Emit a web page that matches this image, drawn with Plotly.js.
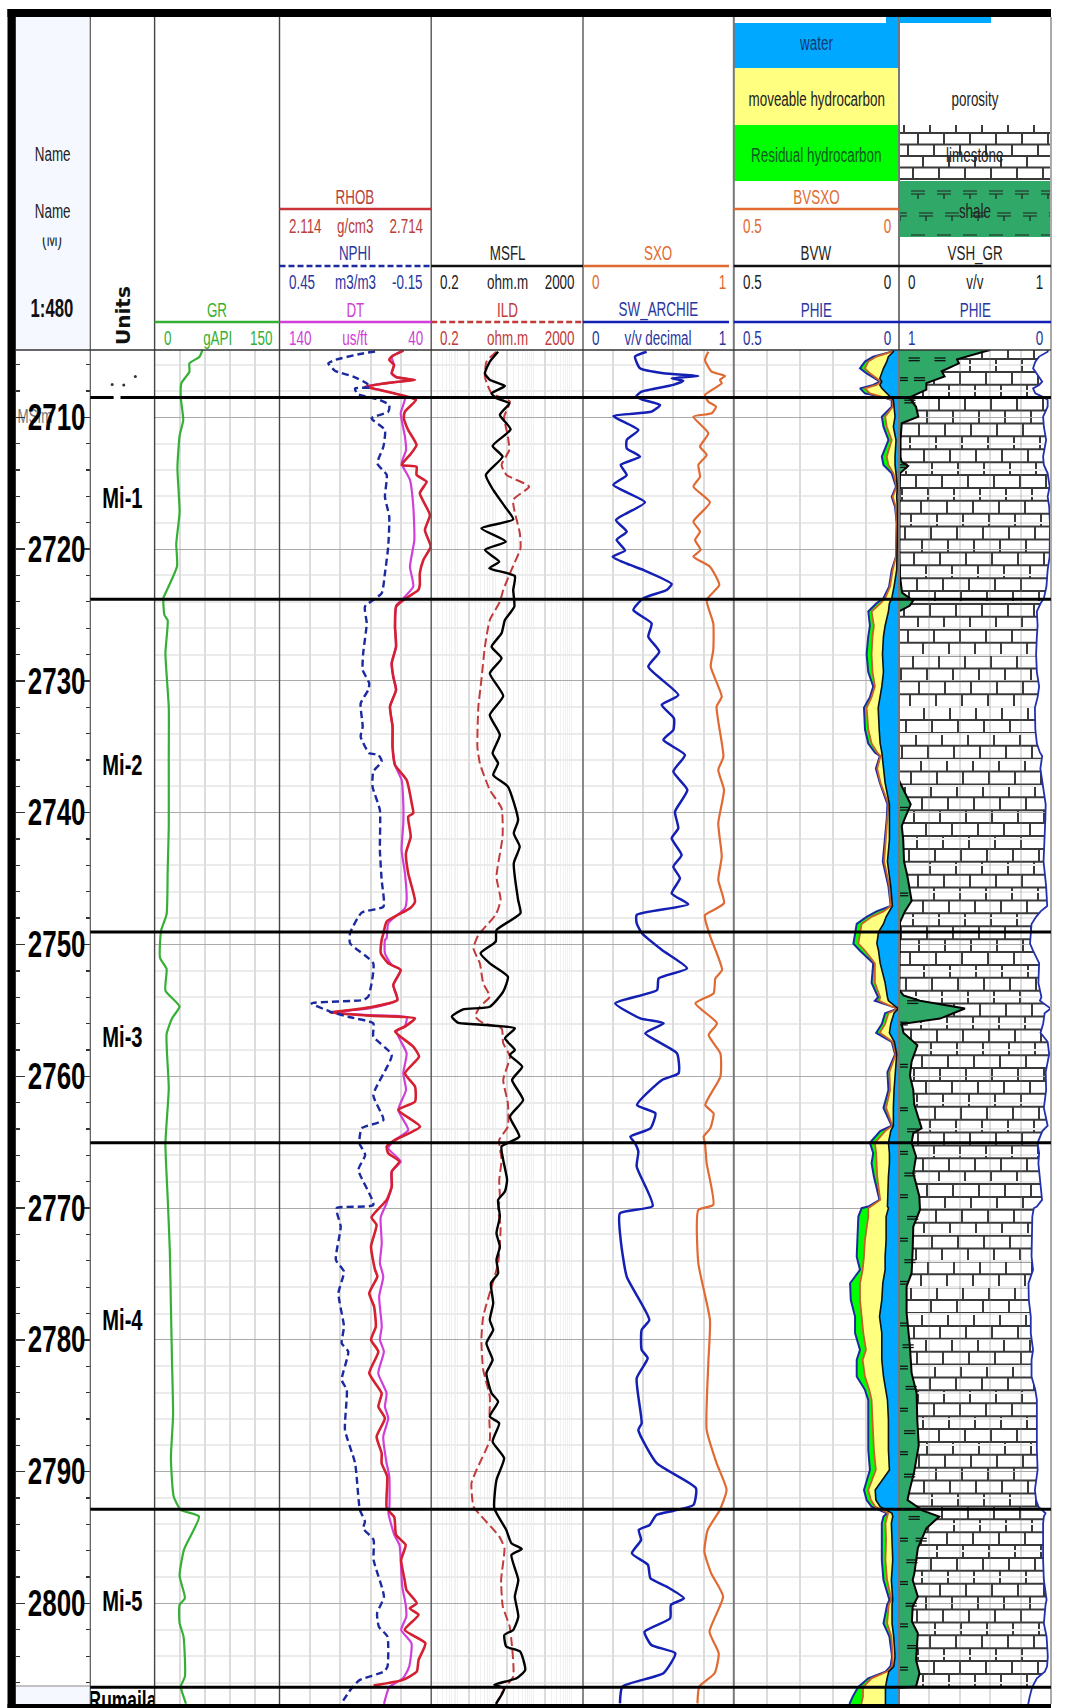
<!DOCTYPE html>
<html><head><meta charset="utf-8">
<script src="https://cdn.plot.ly/plotly-3.0.1.min.js"></script>
<style>html,body{margin:0;padding:0;background:#fff}</style></head>
<body><div id="chart" style="width:1066px;height:1708px"></div>
<script>
// ---------- data (depth in m) ----------
const zoneTops=[2708.5,2723.8,2749.05,2765.05,2792.85,2806.35];
const zoneNames=['Mi-1','Mi-2','Mi-3','Mi-4','Mi-5','Rumaila'];
const zoneLabelDepth=[2716.3,2736.6,2757.2,2778.7,2800,2807.5];

const grDepth=[2704.89,2705.4,2705.9,2706.55,2707.4,2708.5,2710.2,2711.4,2713.85,2717.2,2719.6,2721.3,2723.35,2723.7,2725,2725.4,2727.9,2732,2736.1,2741.1,2744.4,2747.7,2748.95,2751,2751.85,2753.5,2754.7,2755.6,2756.8,2760.9,2765.1,2769.2,2773.3,2777.5,2781.6,2785.7,2789,2791.9,2792.9,2793.4,2795.9,2797.9,2799.6,2800.1,2801.5,2802.5,2805.55,2806.3,2807.6];
const grVal=[57.5,54,41.8,41.8,32.2,31.4,34.4,30,27.4,30,26,27,13,10.5,11.8,15.7,13,17,17,17,15.7,14.4,7.8,6.5,14.4,13,30,21,14.4,17,13,15.7,18.3,19.6,20.9,22.2,19.6,23,31.4,53.3,35.4,30,36.4,30,30,34.7,36.4,31.4,37.7];

const rhobDepth=[2704.94,2705.39,2705.65,2706.03,2706.66,2706.96,2707.16,2707.34,2707.67,2707.92,2708.48,2708.68,2709.57,2710.07,2710.96,2712.1,2712.85,2713.61,2713.74,2714.37,2714.88,2715.76,2717.41,2718.55,2719.81,2720.82,2721.83,2722.72,2723.1,2723.86,2724.36,2725.88,2727.4,2728.66,2729.68,2730.69,2731.95,2733.47,2734.99,2736.38,2737.52,2739.29,2740.04,2740.3,2741.81,2743.08,2744.6,2746.75,2747.25,2748.26,2749.15,2749.66,2750.67,2751.43,2751.93,2753.07,2754.21,2754.77,2755.17,2755.4,2755.6,2756.23,2756.61,2757.75,2758.51,2759.77,2760.79,2761.92,2762.56,2763.82,2764.83,2765.33,2765.84,2766.47,2767.23,2768.37,2769.38,2770.7,2771.28,2772.92,2774.69,2775.2,2776.46,2777.47,2778.99,2780,2780.89,2782.53,2784.05,2785.06,2785.95,2787.34,2788.6,2789.36,2790.37,2792.77,2793.46,2794.8,2795.56,2796.7,2798.22,2798.98,2799.99,2800.37,2800.87,2802.01,2803.02,2804.29,2805.17,2805.8,2806.23];
const rhobVal=[2.604,2.558,2.548,2.567,2.558,2.577,2.65,2.564,2.452,2.511,2.63,2.654,2.61,2.606,2.623,2.656,2.63,2.597,2.656,2.656,2.696,2.669,2.709,2.689,2.712,2.683,2.669,2.669,2.663,2.604,2.575,2.571,2.575,2.558,2.564,2.575,2.551,2.561,2.561,2.571,2.617,2.637,2.643,2.623,2.633,2.614,2.623,2.65,2.63,2.538,2.525,2.518,2.515,2.544,2.593,2.564,2.58,2.472,2.314,2.472,2.65,2.61,2.571,2.643,2.666,2.61,2.65,2.65,2.584,2.67,2.571,2.538,2.544,2.588,2.558,2.558,2.538,2.478,2.498,2.476,2.492,2.501,2.469,2.488,2.495,2.476,2.505,2.469,2.518,2.505,2.531,2.498,2.518,2.518,2.54,2.538,2.568,2.575,2.613,2.595,2.609,2.616,2.657,2.629,2.664,2.609,2.691,2.664,2.657,2.602,2.486];

const dtDepth=[2704.94,2705.39,2706.03,2706.66,2706.96,2707.16,2707.34,2707.67,2707.92,2708.48,2709.69,2711.46,2712.48,2713.49,2714.75,2716.78,2719.3,2721.33,2722.84,2723.86,2724.24,2725.88,2727.4,2728.66,2729.68,2730.69,2731.95,2733.47,2734.99,2736.38,2737.52,2739.29,2740.8,2742.83,2744.6,2746.62,2747.25,2748.39,2749.53,2749.66,2750.67,2751.55,2751.93,2753.07,2754.21,2754.84,2755.17,2755.35,2755.52,2756.18,2756.61,2758.26,2759.77,2761.04,2762.56,2764.07,2764.83,2765.46,2766.47,2767.23,2768.37,2769.63,2770.7,2772.67,2774.19,2775.2,2776.71,2778.99,2780,2780.89,2782.53,2784.05,2785.06,2785.95,2787.34,2789.36,2790.37,2792.77,2793.16,2794.8,2795.56,2797.46,2798.72,2800.11,2801,2802.01,2803.02,2804.79,2805.68,2806.36,2807.62];
const dtVal=[58.4,66.1,64.5,66.1,62.8,51.8,65,83.6,73.8,57.3,60.1,57.3,56.6,59.5,54,51.8,51.1,54,51.8,59.5,62.8,63.9,63.2,66.1,65,63.2,67.2,65.4,65.4,63.9,59.5,58.4,58.4,59.5,57.3,56.2,57.3,68.3,69.4,70.5,70.5,66.1,60.1,65,62.3,80.3,105.6,80.3,56.2,57.3,62.8,56.2,58.4,56.6,61.7,55.1,63.9,68.3,60.1,66.1,66.1,69.4,73.3,72.6,73.8,71.6,74.3,72.6,73.8,71.2,74.9,69.4,70.5,68.3,71.6,69.4,67.6,67.6,68.2,64.3,60.9,59.8,59.1,56.8,56.4,59.8,53,54.5,58.6,67.7,71.1];

const nphiDepth=[2705,2705.19,2705.65,2705.9,2706.46,2706.91,2707.42,2707.72,2707.8,2708.23,2708.68,2709.06,2709.57,2710.07,2710.96,2712.22,2713.49,2714.37,2716.02,2717.53,2719.81,2721.83,2723.35,2724.36,2725.63,2727.9,2729.17,2730.18,2730.69,2731.7,2733.47,2734.23,2735.49,2735.6,2736.12,2736.88,2738.02,2739.79,2742.83,2745.1,2747.13,2747.58,2749.15,2749.91,2751.43,2753.96,2754.21,2754.46,2755.09,2755.52,2755.98,2756.99,2758.38,2761.42,2763.31,2763.95,2765.08,2765.97,2767.1,2769.76,2770.01,2771.4,2773.93,2774.82,2776.46,2778.99,2780.26,2780.89,2783.04,2783.8,2786.83,2789.36,2792.9,2793.79,2794.3,2795.18,2796.7,2799.48,2800.75,2801.76,2802.52,2804.79,2805.17,2805.8,2806.31,2807.62];
const nphiVal=[.072,.132,.231,.257,.231,.158,.105,.092,.151,.142,.053,.016,.02,.086,.033,.039,.063,.026,.033,.016,.02,.033,.046,.112,.105,.119,.121,.095,.099,.129,.121,.129,.095,.059,.046,.079,.082,.053,.053,.046,.039,.125,.171,.171,.079,.099,.119,.323,.25,.171,.079,.079,.006,.079,.039,.125,.134,.111,.138,.079,.224,.208,.227,.195,.217,.195,.204,.178,.204,.184,.191,.151,.132,.112,.119,.078,.078,.037,.064,.057,.023,.023,.037,.132,.16,.207];

const msflDepth=[2705.02,2705.77,2706.66,2707.16,2707.62,2708.18,2708.56,2708.94,2709.82,2710.91,2712.17,2712.98,2714.37,2715.51,2716.77,2717.74,2718.42,2719.43,2720.06,2720.95,2721.45,2722.04,2723.1,2724.36,2725.38,2726.39,2727.4,2728.28,2729.42,2731.14,2732.58,2734.1,2735.49,2736.25,2737.14,2738.02,2740.55,2741.56,2742.57,2743.84,2746.62,2747.63,2748.9,2749.78,2750.67,2751.43,2752.44,2753.58,2754.72,2754.92,2755.47,2755.93,2756.11,2756.36,2757.12,2758,2758.38,2759.27,2760.28,2761.8,2763.06,2764.58,2765.33,2766.35,2767.86,2768.75,2769.38,2770.65,2771.91,2772.92,2773.93,2774.94,2775.7,2777.22,2778.49,2779.24,2780.26,2781.52,2782.53,2784.05,2784.68,2785.82,2786.33,2787.72,2788.98,2790.63,2792.78,2794.42,2795.43,2795.87,2796.32,2798.22,2799.48,2801,2802.01,2802.39,2803.27,2803.65,2805.05,2805.68,2806.18,2806.44,2807.62];
const msflVal=[11.6,7.03,5.2,7.03,17.5,7.8,10.5,22.8,12.9,24.7,8.3,15.2,5.5,8.6,17.5,29,4.2,18.5,5.2,12.4,6.8,32,29,31,17.5,14.3,7.8,14.3,7,15.8,7,12.9,8.3,11.6,8.6,21,39,30,43,30,39,45,10.5,10,4,7,21,15.8,7,1.39,.7,1,5.7,32,17.5,32,23.7,50,27,53,23.7,42,14.3,15.8,20,17.5,11.6,12.9,10.5,12.9,10.5,11.6,7.5,8.6,7,8.6,5.7,8.3,5.7,7.8,11.6,7,12.4,8.3,16.7,10.5,9.2,19,26,48.8,26,39.5,32,39.5,29,17,19,44,60,35.6,9.2,17,10.2];

const ildDepth=[2705.02,2705.77,2706.91,2708.18,2708.81,2709.95,2711.46,2712.48,2713.61,2714.37,2715.26,2716.27,2718.8,2719.94,2721.58,2723.1,2723.99,2725.38,2727.4,2729.93,2731.95,2734.99,2736.25,2738.27,2739.66,2741.81,2744.85,2746.62,2747.63,2748.14,2749.28,2750.29,2751.43,2752.95,2753.96,2754.72,2755.47,2755.98,2756.36,2757.5,2758.51,2760.28,2762.05,2763.82,2764.83,2766.35,2767.87,2769.26,2770.14,2771.4,2774.2,2775.96,2778.23,2780,2782.28,2784.3,2786.07,2787.59,2789.87,2790.88,2792.65,2793.16,2794.93,2795.81,2798.22,2800.24,2801.76,2805.55,2806.44,2807.62];
const ildVal=[10.5,5.74,5.2,7.8,23.7,16.7,21,22.8,14.3,19.3,76,29,43.4,45,26,15.8,12.9,7,5.2,4.2,3.5,3.3,3.83,7,14.3,15.2,10.5,13.5,10.5,7.8,3.5,2.6,3.83,4.7,7,3.83,2.9,4.7,14.3,15.8,23.7,15.8,21,21,12.4,14.3,12.4,12.9,11.6,13.5,11.6,7.8,4.7,4.2,4.7,7,6.8,7,3.13,2.3,2.6,3.57,12.5,17,13.9,15.4,23.4,29,17,10.2];

const swDepth=[2705.02,2705.39,2706.28,2706.66,2706.86,2707.04,2707.22,2707.54,2708.05,2708.43,2708.68,2709.06,2709.57,2709.9,2710.96,2711.72,2712.35,2712.98,2713.61,2714.37,2715.13,2716.45,2717.79,2718.67,2719.3,2720.11,2720.57,2721.2,2721.58,2722.64,2723.1,2723.73,2724.62,2725.63,2726.64,2727.78,2728.92,2731.07,2731.82,2732.84,2733.72,2734.48,2735.62,2736.88,2738.27,2739.92,2741.18,2741.94,2743.21,2744.09,2744.98,2746.13,2746.95,2747.76,2748.39,2749.15,2750.42,2751.81,2752.57,2753.45,2754.46,2755.6,2755.98,2756.74,2758.26,2759.77,2760.28,2762.18,2762.81,2763.95,2764.58,2765.08,2765.71,2766.85,2769.84,2770.39,2772.41,2775.2,2778.49,2779.24,2780.76,2781.39,2782.91,2786.33,2786.83,2789.36,2791.26,2792.53,2792.96,2793.29,2794.05,2794.42,2795.18,2796.2,2797.08,2798.09,2798.72,2799.61,2800.11,2801.13,2802.14,2803.15,2803.78,2805.3,2806.31,2807.58];
const swVal=[.422,.345,.378,.533,.765,.588,.665,.599,.389,.351,.4,.511,.455,.201,.367,.29,.29,.378,.25,.29,.201,.411,.219,.29,.223,.279,.197,.312,.4,.588,.555,.4,.334,.455,.433,.506,.433,.632,.522,.603,.599,.533,.676,.599,.692,.61,.632,.588,.654,.599,.643,.588,.698,.356,.356,.391,.524,.69,.502,.491,.214,.38,.535,.413,.623,.634,.524,.358,.48,.447,.314,.345,.367,.356,.462,.245,.25,.29,.44,.389,.389,.429,.356,.389,.367,.489,.749,.732,.601,.487,.442,.37,.385,.324,.431,.447,.555,.669,.583,.578,.408,.453,.612,.533,.261,.245];

const sxoDepth=[2705.02,2705.65,2706.53,2706.86,2707.16,2707.42,2708.3,2708.81,2709.19,2709.69,2709.95,2711.21,2712.22,2712.85,2713.61,2714.5,2715.26,2716.45,2717.91,2718.67,2719.3,2720.06,2720.57,2721.33,2722.72,2723.86,2725.63,2727.65,2728.92,2731.19,2731.95,2735.75,2736.76,2738.27,2740.8,2743.33,2745.1,2746.87,2747.76,2748.14,2749.4,2751.93,2752.57,2753.7,2754.46,2755.98,2756.87,2758.26,2760.03,2762.18,2762.81,2763.95,2764.58,2765.08,2766.6,2769.76,2770.14,2774.19,2778.49,2781.77,2786.83,2789.36,2791.39,2792.91,2794.42,2796.07,2797.71,2799.48,2802.14,2803.78,2805.3,2806.31,2807.58];
const sxoVal=[.831,.809,.853,.942,.908,.92,.809,.831,.882,.853,.732,.831,.776,.82,.765,.776,.732,.842,.732,.776,.743,.78,.732,.842,.904,.82,.864,.864,.847,.92,.886,.931,.897,.935,.897,.92,.897,.935,.809,.811,.844,.922,.878,.866,.745,.889,.833,.911,.911,.811,.866,.844,.8,.809,.82,.864,.765,.765,.842,.831,.82,.886,.952,.907,.827,.805,.85,.929,.839,.9,.873,.771,.759];

const fluidDepth=[2704.89,2705.02,2705.39,2705.77,2706.28,2706.66,2707.04,2707.29,2707.54,2707.8,2708.18,2708.48,2708.68,2709.19,2709.95,2710.71,2711.72,2712.98,2713.61,2714.25,2715.26,2716.02,2716.77,2718.04,2720.57,2721.58,2722.84,2723.73,2724.11,2724.73,2725.81,2726.62,2727.98,2729.33,2730.42,2731.23,2732.04,2733.67,2734.75,2735.43,2735.7,2736.65,2737.73,2739.36,2740.44,2742.07,2743.7,2745.59,2747.08,2747.49,2747.9,2748.44,2749.06,2749.93,2750.47,2751.42,2752.91,2754,2754.27,2754.67,2754.86,2755.21,2756.03,2756.7,2757.38,2758.33,2759.69,2761.04,2762.4,2763.75,2764.16,2765.05,2765.84,2766.6,2767.61,2769.38,2769.88,2770.01,2770.64,2772.41,2773.68,2774.69,2775.7,2776.96,2778.23,2779.49,2780.76,2781.52,2782.78,2783.79,2784.55,2786.07,2788.35,2789.87,2791.39,2792.15,2792.65,2793.16,2793.41,2793.92,2795.18,2796.7,2798.22,2799.74,2800.11,2801.51,2802.52,2804.04,2804.79,2805.17,2805.68,2806.36,2807.07,2807.63];
const phie=[.02,.022,.078,.103,.118,.098,.073,.058,.078,.118,.103,.047,.022,.022,.052,.047,.032,.052,.047,.022,.009,.022,.012,.007,.009,.022,.03,.047,.068,.093,.088,.093,.098,.093,.078,.088,.106,.103,.093,.073,.058,.07,.058,.035,.037,.042,.049,.032,.025,.068,.098,.128,.133,.138,.118,.078,.083,.063,.073,.027,.002,.042,.052,.069,.022,.012,.035,.032,.047,.022,.057,.088,.078,.083,.076,.059,.093,.113,.123,.126,.128,.118,.148,.146,.133,.133,.118,.128,.128,.103,.093,.093,.093,.088,.106,.098,.083,.036,.047,.052,.052,.052,.047,.029,.036,.047,.029,.021,.026,.041,.093,.124,.14,.15];
const bvsxo=[.02,.022,.068,.093,.103,.088,.068,.055,.068,.103,.088,.042,.019,.019,.042,.037,.022,.037,.032,.017,.007,.019,.01,.007,.009,.019,.027,.042,.056,.083,.076,.08,.083,.08,.073,.083,.098,.093,.083,.066,.056,.066,.056,.032,.035,.039,.045,.029,.025,.047,.083,.113,.118,.123,.103,.073,.073,.057,.06,.025,.002,.032,.042,.058,.019,.01,.029,.027,.039,.02,.042,.073,.069,.067,.066,.057,.088,.093,.093,.103,.106,.11,.118,.118,.113,.108,.1,.11,.103,.09,.083,.08,.076,.07,.093,.085,.072,.033,.036,.041,.039,.041,.036,.023,.031,.036,.023,.019,.021,.036,.083,.109,.109,.114];
const bvw=[.017,.017,.032,.037,.047,.052,.058,.052,.058,.052,.037,.022,.017,.015,.012,.017,.009,.012,.012,.009,.005,.007,.005,.004,.005,.007,.015,.022,.029,.032,.042,.047,.05,.047,.052,.058,.063,.06,.057,.052,.051,.047,.042,.029,.029,.029,.035,.025,.02,.029,.039,.047,.062,.067,.062,.057,.042,.035,.032,.012,.002,.015,.025,.029,.014,.007,.012,.015,.017,.017,.025,.032,.029,.029,.032,.035,.035,.032,.039,.039,.042,.042,.049,.052,.059,.052,.052,.052,.047,.039,.035,.032,.032,.029,.072,.07,.057,.021,.019,.023,.021,.019,.023,.019,.021,.021,.016,.012,.016,.031,.036,.041,.041,.041];

const vshDepth=[2704.89,2705,2705.6,2705.9,2706.5,2706.9,2707.4,2707.9,2708.5,2709.2,2709.95,2710.45,2711.7,2713,2713.4,2713.69,2714.25,2716,2720,2722,2723.3,2723.91,2724.3,2724.73,2737.5,2737.73,2739.36,2741,2742.07,2743.7,2744.78,2746.68,2747.49,2748.3,2753.45,2753.86,2754.27,2754.86,2755.62,2756.03,2756.7,2757.65,2758.87,2759.96,2761.04,2762.12,2763.94,2764.32,2765.03,2766.09,2767.35,2769.12,2770.14,2771.4,2773.17,2774.94,2775.95,2777.97,2780.5,2782.53,2784.05,2786,2788,2790,2791.4,2792.15,2792.96,2793.41,2794.3,2795.8,2797.71,2798.22,2799.48,2800.24,2801.38,2802.26,2804.29,2805.3,2806.31,2806.4,2807.6];
const vshVal=[.6,.562,.382,.394,.281,.3,.18,.18,.067,.112,.127,.018,.01,.01,.018,.06,.007,.004,.003,.006,.02,.093,.07,0,0,.007,.077,.018,.028,.033,.055,.083,.039,.007,.002,.029,.138,.434,.27,.018,.029,.121,.083,.072,.094,.1,.149,.094,.083,.112,.094,.134,.138,.094,.09,.083,.05,.05,.072,.083,.116,.12,.13,.1,.07,.056,.157,.265,.18,.124,.101,.09,.124,.09,.085,.124,.112,.135,.112,0,0];

const shaleDepth=[2705.5,2705.5,2707,2707,2708.7,2713.6,2739.6,2746.1,2754.27,2755.9,2759.1,2762.4,2764,2765.71,2767.35,2769,2770.64,2772.3,2773.93,2775.57,2778.73,2780.38,2782,2783.54,2785.2,2786.9,2788.5,2790.2,2793.41,2795.06,2795.06,2796.7,2798.35,2800,2801.56,2803.2,2804.85];
const shaleVsh=[.1,.27,.022,.135,.072,.02,.024,.024,.09,.02,.022,.022,.09,.022,.072,.022,.09,.022,.072,.022,.022,.06,.022,.08,.022,.07,.022,.07,.1,.022,.146,.085,.022,.08,.022,.09,.022];

const depthTicks=[2710,2720,2730,2740,2750,2760,2770,2780,2790,2800];
// ---------- layout helpers ----------
const W=1066,H=1708,TOP=350,BOT=1704;
const D0=2704.89,D1=2807.63;
const FN='"Liberation Sans",Arial,sans-serif';
const SQ=0.67; // reference header text is horizontally condensed
const px=x=>x/W, py=y=>1-y/H;
const cols=[16,90.3,154.6,279.5,431.2,583,733.8,899,1051];
const dom=i=>[px(cols[i]),px(cols[i+1])];

const C={gr:'#35b035',rhob:'#d42030',nphi:'#1c2aa0',dt:'#d040d8',ild:'#c23a3a',sxo:'#e06a32',sw:'#1420b4',
 water:'#00a8ff',oil:'#ffff80',res:'#00ff00',shale:'#2fa868',grid:'#ebebeb'};

function bricks(w,h,rowH,brickW){
  const shift=[5,19,9,24,14,2,20,11,25,7,17,3,22,12,6,23,15,1,18,10];
  let s='<svg xmlns="http://www.w3.org/2000/svg" width="'+w+'" height="'+h+'" viewBox="0 0 '+w+' '+h+'"><rect width="'+w+'" height="'+h+'" fill="#fff"/><g stroke="#3a3a3a" stroke-width="2" fill="none">';
  let r=0;
  for(let y=rowH*.7;y<h;y+=rowH,r++){
    s+='<path d="M0 '+y+'H'+w+'"/>';
    for(let x=shift[r%shift.length];x<w;x+=brickW) s+='<path d="M'+x+' '+(y-rowH)+'V'+y+'"/>';
  }
  return 'data:image/svg+xml,'+encodeURIComponent(s+'</g></svg>');
}
function shaleSwatch(w,h){
  let s='<svg xmlns="http://www.w3.org/2000/svg" width="'+w+'" height="'+h+'" viewBox="0 0 '+w+' '+h+'"><rect width="'+w+'" height="'+h+'" fill="'+C.shale+'"/><g stroke="#222" stroke-width="1.2" fill="none">';
  [[10,6],[32,-12],[54,6]].forEach(([yy,o])=>{
    for(let x=6+o;x<w;x+=26){s+='<path d="M'+x+' '+yy+'h14M'+x+' '+(yy+3)+'h14M'+(x+7)+' '+(yy+3)+'v5"/>';}
  });
  return 'data:image/svg+xml,'+encodeURIComponent(s+'</g></svg>');
}

// ---------- axes ----------
const layout={width:W,height:H,margin:{l:0,r:0,t:0,b:0},paper_bgcolor:'#fff',plot_bgcolor:'rgba(0,0,0,0)',showlegend:false,hovermode:false,
 font:{family:FN,size:20,color:'#222'},shapes:[],annotations:[],images:[]};
const yDom=[py(BOT),py(TOP)];
layout.yaxis={domain:yDom,range:[D1,D0],anchor:'x',side:'right',ticks:'inside',ticklen:9,tickwidth:1.3,tickcolor:'#333',
  tickvals:depthTicks,ticktext:depthTicks.map(String),ticklabelposition:'inside',mirror:'ticks',showgrid:false,zeroline:false,
  showline:false,tickfont:{family:FN,size:36,color:'#000',weight:700},
  minor:{ticks:'inside',ticklen:4,tickwidth:1.3,tickcolor:'#333',tick0:2700,dtick:2,showgrid:false}};
layout.yaxis2={domain:yDom,range:[D1,D0],matches:'y',anchor:'x3',showticklabels:false,ticks:'',showline:false,zeroline:false,
  showgrid:true,gridcolor:'#aaaaaa',gridwidth:1,tick0:2700,dtick:10,
  minor:{showgrid:true,gridcolor:C.grid,gridwidth:2,tick0:2700,dtick:2,ticks:''}};
const hid={showticklabels:false,ticks:'',showline:false,zeroline:false};
function xa(n,d,range,extra){layout['xaxis'+(n===1?'':n)]=Object.assign({domain:d,range:range,anchor:n<=2?'y':'y2',showgrid:false},hid,extra||{});}
const vgrid=(dt)=>({showgrid:true,gridcolor:'#dcdcdc',gridwidth:2,dtick:dt,tick0:0});
xa(1,dom(0),[0,1]);
xa(2,dom(1),[0,1]);
xa(3,dom(2),[0,150],vgrid(30));
xa(4,dom(3),[140,40],vgrid(20));
xa(5,dom(3),[2.114,2.714],{overlaying:'x4'});
xa(6,dom(3),[.45,-.15],{overlaying:'x4'});
const logMinor=[];[0.1,1,10,100,1000].forEach(b=>[2,3,4,5,6,7,8,9].forEach(k=>{const v=b*k;if(v>.2&&v<2000)logMinor.push(v);}));
[1,10,100,1000].forEach(v=>logMinor.push(v));
xa(7,dom(4),[Math.log10(.2),Math.log10(2000)],{type:'log',showgrid:true,gridcolor:'#dcdcdc',gridwidth:1.5,tickmode:'array',tickvals:[2,20,200],ticktext:['','',''],
  minor:{showgrid:true,gridcolor:'#f1f1f1',gridwidth:1,tickmode:'array',tickvals:logMinor,ticks:''}});
xa(8,dom(5),[0,1],vgrid(.2));
xa(9,dom(6),[.5,0],vgrid(.1));
xa(10,dom(7),[0,1],{showgrid:true,gridcolor:'rgba(120,120,120,.25)',gridwidth:2,dtick:.2,tick0:0});
xa(11,dom(7),[1,0],{overlaying:'x10'});

// ---------- traces ----------
const lineTrace=(x,y,xaxis,color,width,dash)=>({type:'scatter',mode:'lines',x:x,y:y,xaxis:xaxis,yaxis:'y2',
  line:{color:color,width:width,dash:dash||'solid',shape:'spline',smoothing:.5},hoverinfo:'skip'});
const fillTrace=(x,y,xaxis,lc,lw,fc)=>({type:'scatter',mode:'lines',x:x,y:y,xaxis:xaxis,yaxis:'y2',fill:'tozerox',fillcolor:fc,
  line:{color:lc,width:lw},hoverinfo:'skip'});
const data=[
  {type:'scatter',mode:'text',x:[.02],y:[2710.05],xaxis:'x',yaxis:'y',text:['MSfm'],textposition:'middle right',textfont:{family:FN,size:20,color:'#777'},hoverinfo:'skip'},
  {type:'scatter',mode:'text',x:zoneNames.map(()=>.5),y:zoneLabelDepth,xaxis:'x2',yaxis:'y',text:zoneNames,textposition:'middle center',cliponaxis:true,
    textfont:{family:FN,size:[30,30,30,30,30,26],color:'#000',weight:700},hoverinfo:'skip'},
  {type:'scatter',mode:'markers',x:[.34,.52,.7],y:[2707.5,2707.55,2706.9],xaxis:'x2',yaxis:'y',marker:{size:3,color:'#333'},hoverinfo:'skip'},
  lineTrace(grVal,grDepth,'x3',C.gr,2.2),
  lineTrace(nphiVal,nphiDepth,'x6',C.nphi,2.4,'7px,4px'),
  lineTrace(dtVal,dtDepth,'x4',C.dt,2.2),
  lineTrace(rhobVal,rhobDepth,'x5',C.rhob,2.6),
  lineTrace(ildVal,ildDepth,'x7',C.ild,2,'9px,4px'),
  lineTrace(msflVal,msflDepth,'x7','#000',2.4),
  lineTrace(swVal,swDepth,'x8',C.sw,2.5),
  lineTrace(sxoVal,sxoDepth,'x8',C.sxo,2.2),
  fillTrace(phie,fluidDepth,'x9','#1c2aa0',2,C.res),
  fillTrace(bvsxo,fluidDepth,'x9','#c8602a',1.8,C.oil),
  fillTrace(bvw,fluidDepth,'x9','#111',1.6,C.water),
  fillTrace(vshVal,vshDepth,'x10','#000',2,C.shale),
  fillTrace(phie,fluidDepth,'x11','#2030b0',1.8,'#ffffff'),
  {type:'scatter',mode:'markers',x:shaleVsh,y:shaleDepth,xaxis:'x10',yaxis:'y2',marker:{symbol:'line-ew',size:8,line:{width:1.3,color:'#111'}},hoverinfo:'skip'},
  {type:'scatter',mode:'markers',x:shaleVsh,y:shaleDepth.map(d=>d+.2),xaxis:'x10',yaxis:'y2',marker:{symbol:'line-ew',size:8,line:{width:1.3,color:'#111'}},hoverinfo:'skip'}
];

// ---------- brick image in the VSH track ----------
layout.images.push({source:bricks(152,1338,12.9,26),xref:'x10',yref:'y2',x:0,y:D0,sizex:1,sizey:zoneTops[5]-D0,sizing:'stretch',xanchor:'left',yanchor:'top',layer:'below'});
layout.images.push({source:bricks(152,56,11.5,26),xref:'paper',yref:'paper',x:px(899),y:py(125),sizex:px(152),sizey:56/H,sizing:'stretch',xanchor:'left',yanchor:'top',layer:'below'});
layout.images.push({source:shaleSwatch(152,56),xref:'paper',yref:'paper',x:px(899),y:py(181),sizex:px(152),sizey:56/H,sizing:'stretch',xanchor:'left',yanchor:'top',layer:'below'});

// ---------- shapes ----------
const rect=(x0,y0,x1,y1,c,layer)=>layout.shapes.push({type:'rect',xref:'paper',yref:'paper',x0:px(x0),x1:px(x1),y0:py(y0),y1:py(y1),fillcolor:c,line:{width:0},layer:layer||'above'});
const hline=(x0,x1,y,c,w,dash)=>layout.shapes.push({type:'line',xref:'paper',yref:'paper',x0:px(x0),x1:px(x1),y0:py(y),y1:py(y),line:{color:c,width:w,dash:dash||'solid'}});
const vline=(x,y0,y1,c,w)=>layout.shapes.push({type:'line',xref:'paper',yref:'paper',x0:px(x),x1:px(x),y0:py(y0),y1:py(y1),line:{color:c,width:w}});
rect(16,17,90.3,350,'#f5f8fe','below');
rect(16,1686,90.3,1704,'#f5f8fe','below');
rect(733.8,23,899,68,C.water);
rect(733.8,68,899,125,C.oil);
rect(733.8,125,899,181,C.res);
rect(886,17,991,23,C.water);
[[90.3,'#555',1.2],[154.6,'#444',1.4],[279.5,'#444',1.4],[431.2,'#555',1.4],[583,'#888',2],[733.8,'#777',2],[899,'#777',2],[1051,'#aaa',2]].forEach(v=>vline(v[0],17,1704,v[1],v[2]));
hline(16,90.3,1686,'#888',1);
hline(16,1051,350,'#333',1.4);
hline(154.6,279.5,322,C.gr,2.6);
hline(279.5,431.2,322,C.dt,2.6);
hline(431.2,583,322,C.ild,2.6,'6px,3px');
hline(583,729,322,C.sw,2.4);
hline(733.8,1051,322,C.sw,2.4);
hline(279.5,431.2,266,C.nphi,2.4,'6px,3px');
hline(431.2,583,266,'#111',2.4);
hline(583,729,266,C.sxo,2.4);
hline(733.8,1051,266,'#111',2.4);
hline(279.5,431.2,209,'#c8343a',2.4);
hline(733.8,899,209,C.sxo,2.4);
zoneTops.forEach(d=>layout.shapes.push({type:'line',xref:'paper',yref:'y',x0:px(90.3),x1:px(1051),y0:d,y1:d,line:{color:'#000',width:3}}));
rect(113.6,395,120.5,401,'#fff');
// black frame
rect(7.5,9,1051,17,'#000');
rect(7.5,9,15.8,1708,'#000');
rect(7.5,1704,1051,1708,'#000');

// ---------- header text ----------
const T=(x,y,text,color,opt)=>{ if(text==='')return; layout.annotations.push(Object.assign({xref:'paper',yref:'paper',x:px(x),y:py(y),text:text,showarrow:false,xanchor:'center',yanchor:'middle',
  font:{family:FN,size:20,color:color||'#222'},borderpad:0},opt||{}));};
const L={xanchor:'left'},R={xanchor:'right'};
T(52,154,'Name');T(52,211,'Name');
T(52,239,'(M)','#222');
layout.annotations.push({xref:'paper',yref:'paper',x:px(52),y:py(229),text:' ',showarrow:false,width:60,height:14,bgcolor:'#f5f8fe',xanchor:'center',yanchor:'middle'});
T(52,308,'1:480','#111',{font:{family:FN,size:25,color:'#111',weight:700}});
T(123,316,'Units','#111',{textangle:-90,font:{family:'"DejaVu Sans"',size:20,color:'#111',weight:700}});
function row3(l,r,y,a,b,c,col){T(l+8,y,a,col,L);T((l+r)/2,y,b,col);T(r-7,y,c,col,R);}
T(217,310,'GR',C.gr);row3(154.6,279.5,338,'0','gAPI','150',C.gr);
T(355,197,'RHOB','#b8403c');row3(279.5,431.2,226,'2.114','g/cm3','2.714','#b8403c');
T(355,253,'NPHI','#2a36a0');row3(279.5,431.2,282,'0.45','m3/m3','-0.15','#2a36a0');
T(355,310,'DT',C.dt);row3(279.5,431.2,338,'140','us/ft','40',C.dt);
T(507,253,'MSFL');row3(431.2,583,282,'0.2','ohm.m','2000','#222');
T(507,310,'ILD',C.ild);row3(431.2,583,338,'0.2','ohm.m','2000',C.ild);
T(658,253,'SXO',C.sxo);row3(583,733.8,282,'0','','1',C.sxo);
T(658,310,'SW_ARCHIE','#2a36a0');row3(583,733.8,338,'0','v/v decimal','1','#2a36a0');
T(816,43,'water','#123a70');
T(816,99,'moveable hydrocarbon','#222');
T(816,155,'Residual hydrocarbon','#0a5a20');
T(816,197,'BVSXO',C.sxo);row3(733.8,899,226,'0.5','','0',C.sxo);
T(816,253,'BVW');row3(733.8,899,282,'0.5','','0','#222');
T(816,310,'PHIE','#2a36a0');row3(733.8,899,338,'0.5','','0','#2a36a0');
T(975,99,'porosity');T(975,155,'limestone');T(975,211,'shale');
T(975,253,'VSH_GR');row3(899,1051,282,'0','v/v','1','#222');
T(975,310,'PHIE','#2a36a0');row3(899,1051,338,'1','','0','#2a36a0');

Plotly.newPlot('chart',data,layout,{displayModeBar:false,staticPlot:true}).then(()=>{
  // condense the real text nodes to the narrow proportions of the reference
  const squeeze=(el,k)=>{const w=el.getComputedTextLength();if(!w)return 0;
    el.setAttribute('textLength',(w*k).toFixed(1));el.setAttribute('lengthAdjust','spacingAndGlyphs');return w*(1-k);};
  document.querySelectorAll('.annotation').forEach(a=>{
    const i=+a.getAttribute('data-index'),an=layout.annotations[i],el=a.querySelector('.annotation-text');
    if(!el||an.textangle||an.text===' ')return;
    const cut=squeeze(el,SQ),x=parseFloat(el.getAttribute('x')||0);
    if(an.xanchor==='left')el.setAttribute('x',x-cut/2);
    if(an.xanchor==='right')el.setAttribute('x',x+cut/2);
  });
  document.querySelectorAll('.textpoint text').forEach(el=>squeeze(el,SQ));
  document.querySelectorAll('.ytick text').forEach(el=>squeeze(el,0.72));
});
</script></body></html>
